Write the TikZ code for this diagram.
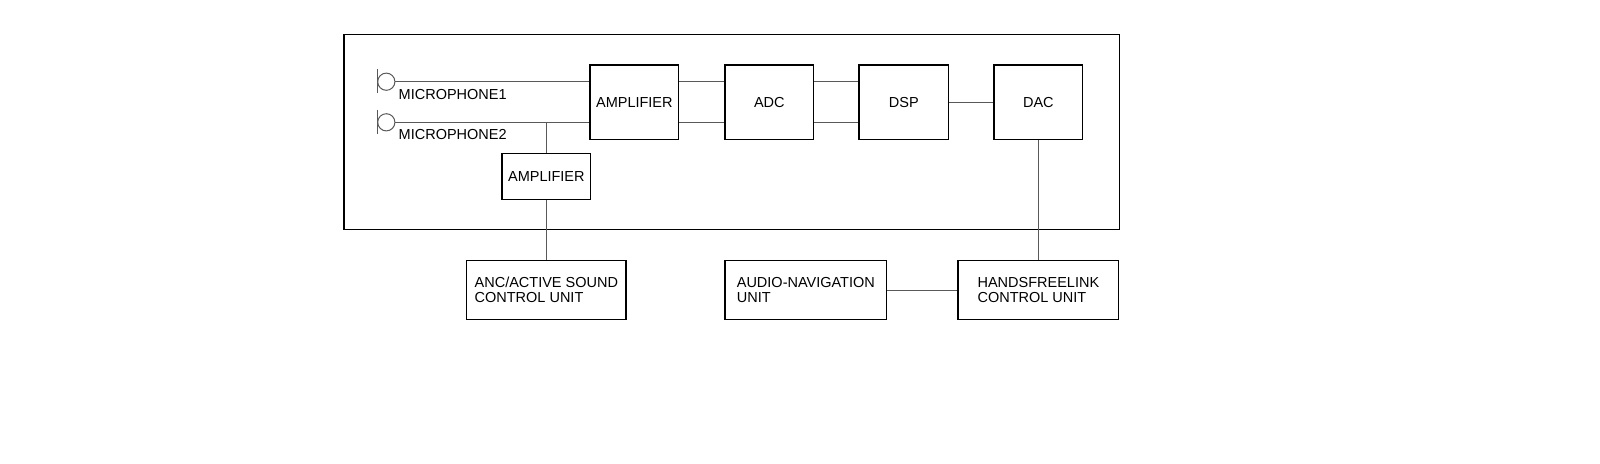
\documentclass[tikz,border=0pt]{standalone}
\usepackage{fontspec}
\setmainfont{Liberation Sans}
\newcommand\diafont{\fontsize{7.25pt}{7.5pt}\selectfont}
\begin{document}
\begin{tikzpicture}[x=0.5pt,y=-0.5pt,
  box/.style={draw=black, line width=0.7pt, inner sep=0pt, font=\diafont, align=left, rectangle},
  wire/.style={draw=black!65, line width=0.5pt},
  lbl/.style={inner sep=0pt, font=\diafont, anchor=base west}]
\useasboundingbox (0,0) rectangle (1600,463);
% frame
\node[box, minimum width=387.65pt, minimum height=97.3pt] (frame) at (731.65,132) {};
% boxes
\node[box, minimum width=44.35pt, minimum height=37.15pt] (amp1) at (634.35,102.15) {AMPLIFIER};
\node[box, minimum width=44.35pt, minimum height=37.15pt] (adc) at (769.35,102.15) {ADC};
\node[box, minimum width=44.85pt, minimum height=37.15pt] (dsp) at (903.85,102.15) {DSP};
\node[box, minimum width=44.35pt, minimum height=37.15pt] (dac) at (1038.35,102.15) {DAC};
\node[box, minimum width=44.35pt, minimum height=23pt] (amp2) at (546.35,176.3) {AMPLIFIER};
\node[box, minimum width=79.65pt, minimum height=29.3pt] (anc) at (546.35,290) {ANC/ACTIVE SOUND\\CONTROL UNIT};
\node[box, minimum width=80.85pt, minimum height=29.3pt] (nav) at (805.85,290) {AUDIO-NAVIGATION\\UNIT};
\node[box, minimum width=80.3pt, minimum height=29.3pt] (hf) at (1038.35,290) {HANDSFREELINK\\CONTROL UNIT};
% microphones
\draw[wire] (377.7,69.3) -- (377.7,92.7);
\draw[wire] (386.3,81.7) circle[radius=8.6];
\coordinate (m1) at (394.9,81.7);
\draw[wire] (377.7,110.3) -- (377.7,133.7);
\draw[wire] (386.3,122.3) circle[radius=8.6];
\coordinate (m2) at (394.9,122.3);
\node[lbl] (t1) at (398.3,99.3) {MICROPHONE1};
\node[lbl] (t2) at (398.3,139.8) {MICROPHONE2};
% connectors
\draw[wire] (m1) -- (m1 -| amp1.west);
\draw[wire] (m2) -- (m2 -| amp1.west);
\draw[wire] (m2 -| amp2.north) -- (amp2.north);
\draw[wire] (amp2.south) -- (anc.north);
\draw[wire] (m1 -| amp1.east) -- (m1 -| adc.west);
\draw[wire] (m2 -| amp1.east) -- (m2 -| adc.west);
\draw[wire] (m1 -| adc.east) -- (m1 -| dsp.west);
\draw[wire] (m2 -| adc.east) -- (m2 -| dsp.west);
\draw[wire] (dsp.east) -- (dac.west);
\draw[wire] (dac.south) -- (hf.north);
\draw[wire] (nav.east) -- (hf.west);
\end{tikzpicture}
\end{document}
